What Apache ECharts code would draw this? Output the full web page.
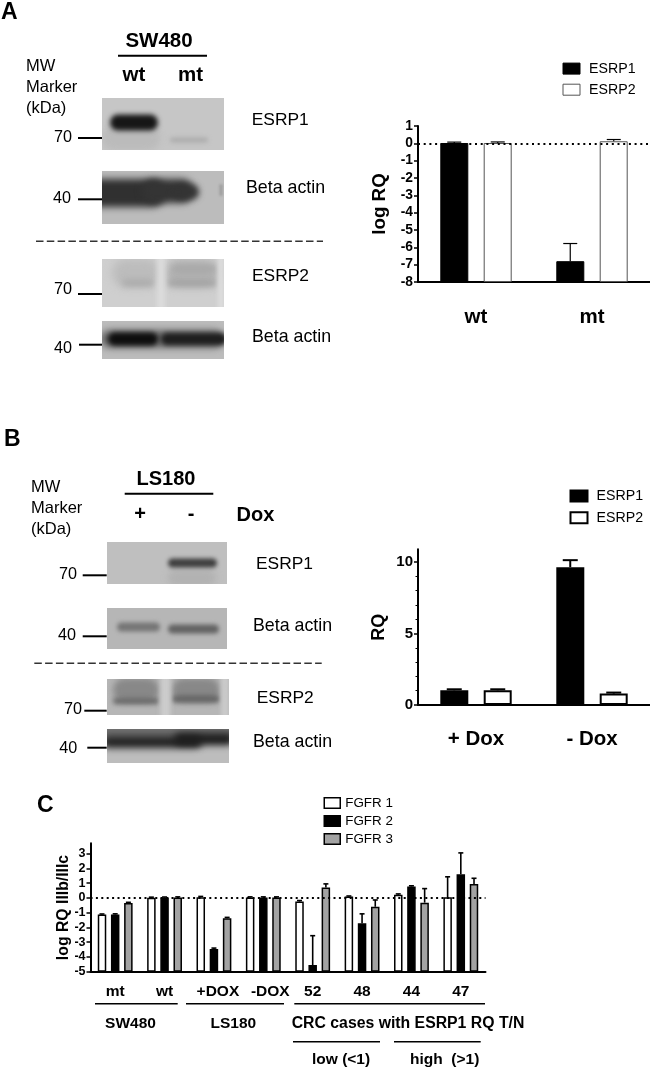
<!DOCTYPE html>
<html>
<head>
<meta charset="utf-8">
<title>ESRP1 ESRP2 FGFR</title>
<script src="https://cdn.jsdelivr.net/npm/echarts@6/dist/echarts.min.js"></script>
<style>
  html, body { margin: 0; padding: 0; background: #fff; }
  #chart { width: 650px; height: 1067px; }
</style>
</head>
<body>
<div id="chart"></div>
<script>
// panel A
var catsA = ['wt', 'mt'];
var ticksA = [-8, -7, -6, -5, -4, -3, -2, -1, 0, 1];
var esrp1A = [0.02, -6.8];
var esrp1AErr = [0.07, -5.78];
var esrp2A = [0.02, 0.12];
var esrp2AErr = [0.08, 0.22];

// panel B
var catsB = ['+ Dox', '- Dox'];
var ticksB = [0, 5, 10];
var esrp1B = [1.03, 9.65];
var esrp1BErr = [1.1, 10.14];
var esrp2B = [1.03, 0.8];
var esrp2BErr = [1.1, 0.87];

// panel C
var catsC = ['mt', 'wt', '+DOX', '-DOX', '52', '48', '44', '47'];
var ticksC = [-5, -4, -3, -2, -1, 0, 1, 2, 3];
var fgfr1 = [-1.13, 0.01, 0.05, 0.02, -0.25, 0.1, 0.22, 0.05];
var fgfr1Err = [-1.09, 0.05, 0.1, 0.07, -0.18, 0.13, 0.27, 1.43];
var fgfr2 = [-1.13, 0.02, -3.46, 0.02, -4.55, -1.72, 0.77, 1.6];
var fgfr2Err = [-1.08, 0.06, -3.4, 0.07, -2.56, -1.08, 0.82, 3.05];
var fgfr3 = [-0.34, 0.02, -1.38, 0.02, 0.7, -0.6, -0.32, 0.95];
var fgfr3Err = [-0.3, 0.07, -1.32, 0.07, 0.95, -0.14, 0.63, 1.33];

var FONT = '"Liberation Sans", Arial, sans-serif';

// text / line / gel helpers for the blot part of the figure
var items = [];
function txt(x, y, s, size, bold, align) {
  items.push({
    type: 'text', x: x, y: y, z: 10,
    style: {
      text: s, fill: '#000', align: align || 'left', verticalAlign: 'middle',
      font: (bold ? 'bold ' : '') + size + 'px ' + FONT
    }
  });
}
function rule(x1, x2, y, w, dash) {
  items.push({
    type: 'line', z: 9,
    shape: { x1: x1, y1: y, x2: x2, y2: y },
    style: { stroke: dash ? '#333' : '#000', lineWidth: w, lineDash: dash || null }
  });
}
// a blot is painted on a small canvas so the blurred bands stay inside its frame
// band = [cx, cy, rx, ry, colour, blur]
function gel(x, y, w, h, bg, bands) {
  var c = document.createElement('canvas');
  c.width = w; c.height = h;
  var ctx = c.getContext('2d');
  ctx.fillStyle = bg;
  ctx.fillRect(0, 0, w, h);
  bands.forEach(function (b) {
    ctx.filter = 'blur(' + b[5] + 'px)';
    ctx.fillStyle = b[4];
    ctx.beginPath();
    ctx.roundRect(b[0] - b[2], b[1] - b[3], b[2] * 2, b[3] * 2, Math.min(b[2], b[3]));
    ctx.fill();
  });
  items.push({ type: 'image', x: x, y: y, z: 5, style: { image: c, x: 0, y: 0, width: w, height: h } });
}

// A
txt(1, 12.5, 'A', 23, true);
txt(159, 41.5, 'SW480', 20.5, true, 'center');
rule(118, 207, 55.7, 2);
txt(134, 75, 'wt', 20.5, true, 'center');
txt(190.5, 75, 'mt', 20.5, true, 'center');
txt(26, 66.7, 'MW', 16.5);
txt(26, 87.3, 'Marker', 16.5);
txt(26, 108, '(kDa)', 16.5);
gel(102, 98, 122, 52, '#c6c6c6', [[29, 40, 29, 12, '#bbbbbb', 3], [32, 24.5, 24, 8, '#161616', 2.5], [87, 42, 19, 2.5, '#acacac', 2]]);
txt(54, 137.3, '70', 16.2);
rule(78, 102, 138, 2);
txt(251.7, 120.7, 'ESRP1', 17.4);
gel(102, 171, 122, 53, '#bcbcbc', [[8, 22, 56, 14, '#303030', 3.5], [66, 20, 26, 12, '#343434', 3.5], [84, 21, 13, 7, '#343434', 3], [119, 19, 1.5, 6, '#9c9c9c', 1]]);
txt(53, 198.3, '40', 16.2);
rule(78, 102, 199.3, 2);
txt(246, 188, 'Beta actin', 17.8);
rule(36, 323, 241.3, 1.5, [7.5, 3.3]);
gel(102, 259, 122, 48, '#cfcfcf', [[34, 14, 24, 14, '#bcbcbc', 4], [90, 14, 26, 14, '#b2b2b2', 4], [36, 24, 16, 3, '#a8a8a8', 3], [90, 24, 25, 3, '#a0a0a0', 3], [92, 10, 22, 3, '#a6a6a6', 3], [59, 24, 4, 30, '#dcdcdc', 2.5], [119, 24, 3, 30, '#dddddd', 2]]);
txt(54, 290, '70', 16.2);
rule(78, 102, 294, 2);
txt(252, 276.7, 'ESRP2', 17.4);
gel(102, 321, 122, 38, '#bcbcbc', [[60, 18, 62, 9, '#666666', 3.5], [31, 18, 25, 6.5, '#0e0e0e', 2.5], [92, 18, 33, 6, '#1e1e1e', 2.5]]);
txt(54, 348.3, '40', 16.2);
rule(79, 102, 344.7, 2);
txt(252, 337.3, 'Beta actin', 17.8);

// B
txt(4, 440, 'B', 23, true);
txt(166, 479.3, 'LS180', 20, true, 'center');
rule(124.7, 213.3, 493.7, 2);
txt(140, 514, '+', 20, true, 'center');
txt(191, 514, '-', 20, true, 'center');
txt(236.5, 515.7, 'Dox', 20, true);
txt(31, 487.7, 'MW', 16.5);
txt(31, 508, 'Marker', 16.5);
txt(31, 529.3, '(kDa)', 16.5);
gel(107, 542, 120, 42, '#bfbfbf', [[85, 36, 24, 8, '#b2b2b2', 3], [85.5, 21, 24.5, 4.5, '#3e3e3e', 2.2]]);
txt(59, 574.7, '70', 16.2);
rule(82.7, 106.7, 575.3, 2);
txt(256, 564, 'ESRP1', 17.4);
gel(107, 608, 120, 41, '#b6b6b6', [[31.5, 19, 21.5, 4.5, '#757575', 2], [86.5, 21, 25.5, 4.5, '#636363', 2]]);
txt(58, 635.7, '40', 16.2);
rule(82.7, 106.7, 636.3, 2);
txt(253, 626, 'Beta actin', 17.8);
rule(34.3, 321.7, 663.3, 1.5, [7.5, 3.3]);
gel(107, 679, 122, 36, '#b6b6b6', [[29, 11, 23, 12, '#888888', 3], [89, 11, 24, 12, '#888888', 3], [29, 22, 23, 3, '#666666', 2.5], [89, 20, 24, 3.5, '#636363', 2.5], [58.5, 18, 5, 24, '#cccccc', 2], [118, 18, 4, 24, '#cacaca', 2]]);
txt(64, 709.3, '70', 16.2);
rule(84.3, 106.7, 710.7, 2);
txt(256.7, 698.7, 'ESRP2', 17.4);
gel(107, 729, 122, 34, '#bdbdbd', [[61, 3, 70, 9, '#6f6f6f', 3.5], [45, 13, 50, 6, '#222222', 3.5], [97, 10, 30, 6, '#1e1e1e', 3.5]]);
txt(59.3, 748.3, '40', 16.2);
rule(87.3, 106.7, 747.7, 2);
txt(253, 741.7, 'Beta actin', 17.8);

// C
txt(37, 806, 'C', 23, true);
rule(95, 177.7, 1003.7, 1.5);
rule(186, 284, 1003.7, 1.5);
rule(294.3, 485, 1003.7, 1.5);
txt(130.5, 1023.3, 'SW480', 15.5, true, 'center');
txt(233.3, 1023.3, 'LS180', 15.5, true, 'center');
txt(291.7, 1023.3, 'CRC cases with ESRP1 RQ T/N', 15.8, true);
rule(293, 380, 1041.7, 1.5);
rule(394, 480.7, 1041.7, 1.5);
txt(312, 1059.3, 'low (<1)', 15.5, true);
txt(410, 1059.3, 'high  (>1)', 15.5, true);

function bars(name, data, grid, style, width, gap, dotted) {
  var s = {
    type: 'bar', name: name, data: data, xAxisIndex: grid, yAxisIndex: grid,
    barWidth: width, barGap: gap, itemStyle: style, silent: true, animation: false
  };
  if (dotted) {
    s.markLine = {
      silent: true, symbol: 'none', animation: false, label: { show: false },
      lineStyle: { color: '#000', type: dotted, width: 2 },
      data: [{ yAxis: 0 }]
    };
  }
  return s;
}

// whisker from each bar top, drawn through the axis scale
function whiskers(values, tops, grid, offset, cap, lw) {
  return {
    type: 'custom', xAxisIndex: grid, yAxisIndex: grid, silent: true, animation: false, z: 3,
    data: values.map(function (v, i) { return [i, v, tops[i]]; }),
    encode: { x: 0, y: [1, 2] },
    renderItem: function (params, api) {
      var low = api.coord([api.value(0), api.value(1)]);
      var high = api.coord([api.value(0), api.value(2)]);
      var x = low[0] + offset;
      var st = { stroke: '#000', lineWidth: lw, fill: null };
      return {
        type: 'group',
        children: [
          { type: 'line', shape: { x1: x, y1: low[1], x2: x, y2: high[1] }, style: st },
          { type: 'line', shape: { x1: x - cap / 2, y1: high[1], x2: x + cap / 2, y2: high[1] }, style: st }
        ]
      };
    }
  };
}

function xAxisOf(cats, grid, size, margin, extra) {
  return {
    type: 'category', gridIndex: grid, data: cats,
    axisLine: { onZero: false, lineStyle: { color: '#000', width: 2 } },
    axisTick: { alignWithLabel: true, length: 3.5, lineStyle: { color: '#000', width: 1.5 } },
    axisLabel: Object.assign({
      color: '#000', fontFamily: FONT, fontWeight: 'bold', fontSize: size, margin: margin, interval: 0
    }, extra || {}),
    splitLine: { show: false }
  };
}
function yAxisOf(ticks, grid, min, max, interval, name, nameSize, nameGap, size) {
  return {
    type: 'value', gridIndex: grid, min: min, max: max, interval: interval, startValue: min,
    name: name, nameLocation: 'middle', nameGap: nameGap, nameMoveOverlap: false,
    nameTextStyle: { color: '#000', fontFamily: FONT, fontWeight: 'bold', fontSize: nameSize },
    axisLine: { show: true, onZero: false, lineStyle: { color: '#000', width: 2 } },
    axisTick: { show: true, customValues: ticks, length: 4, lineStyle: { color: '#000', width: 1.5 } },
    axisLabel: { customValues: ticks, color: '#000', fontFamily: FONT, fontWeight: 'bold', fontSize: size, margin: 5 },
    splitLine: { show: false }
  };
}

var blackA = { color: '#000', borderColor: '#000', borderWidth: 1 };
var whiteA = { color: '#fff', borderColor: '#555', borderWidth: 1 };
var blackB = { color: '#000', borderColor: '#000', borderWidth: 2 };
var whiteB = { color: '#fff', borderColor: '#000', borderWidth: 2 };
var whiteC = { color: '#fff', borderColor: '#000', borderWidth: 1.5 };
var blackC = { color: '#000', borderColor: '#000', borderWidth: 1.5 };
var greyC = { color: '#a3a3a3', borderColor: '#000', borderWidth: 1.5 };

function legendOf(left, top, w, h, gap, size, pad, entries) {
  return {
    left: left, top: top, orient: 'vertical', itemWidth: w, itemHeight: h, itemGap: gap,
    selectedMode: false, padding: 0,
    textStyle: { color: '#000', fontFamily: FONT, fontSize: size, padding: [0, 0, 0, pad] },
    data: entries.map(function (e) { return { name: e[0], icon: 'rect', itemStyle: e[1] }; })
  };
}

// the two DOX labels sit a little right of their ticks
var doxLabel = {
  formatter: function (v) {
    if (v == '+DOX') return '{p|+DOX}';
    if (v == '-DOX') return '{m|-DOX}';
    return v;
  },
  rich: {
    p: { fontFamily: FONT, fontWeight: 'bold', fontSize: 15.5, color: '#000', padding: [0, 0, 0, 8] },
    m: { fontFamily: FONT, fontWeight: 'bold', fontSize: 15.5, color: '#000', padding: [0, 0, 0, 14] }
  }
};

var myChart = echarts.init(document.getElementById('chart'), null, { renderer: 'canvas' });
myChart.setOption({
  backgroundColor: '#fff',
  animation: false,
  graphic: { elements: items },
  legend: [
    legendOf(562.5, 61.6, 17, 11, 7.1, 14.2, 4, [['ESRP1', blackA], ['ESRP2', whiteA]]),
    legendOf(569.5, 488.9, 17, 11, 7.8, 14.2, 4, [['ESRP1', blackB], ['ESRP2', whiteB]]),
    legendOf(323.5, 796.6, 16, 10.5, 4.9, 13.4, 0, [['FGFR 1', whiteC], ['FGFR 2', blackC], ['FGFR 3', greyC]])
  ],
  grid: [
    { left: 418, top: 126, width: 232, height: 156 },
    { left: 418, top: 549.3, width: 232, height: 155.7 },
    { left: 90.5, top: 843.3, width: 395, height: 128.4 }
  ],
  xAxis: [
    xAxisOf(catsA, 0, 20.5, 24.5),
    xAxisOf(catsB, 1, 20.5, 24),
    xAxisOf(catsC, 2, 15.5, 12, doxLabel)
  ],
  yAxis: [
    yAxisOf(ticksA, 0, -8, 1, 1, 'log RQ', 18.8, 29, 13.8),
    Object.assign(yAxisOf(ticksB, 1, 0, 10.9, 5, 'RQ', 18, 30, 15), {
      minorTick: { show: true, splitNumber: 5, length: 2.5, lineStyle: { color: '#000', width: 1 } }
    }),
    yAxisOf(ticksC, 2, -5, 3.7, 1, 'log RQ IIIb/IIIc', 15.8, 18.5, 12.5)
  ],
  series: [
    bars('ESRP1', esrp1A, 0, blackA, 28, '55%', [2, 3.7]),
    bars('ESRP2', esrp2A, 0, whiteA, 28, '55%'),
    whiskers(esrp1A, esrp1AErr, 0, -21.75, 14, 1.2),
    whiskers(esrp2A, esrp2AErr, 0, 21.75, 14, 1.2),

    bars('ESRP1', esrp1B, 1, blackB, 28, '55%'),
    bars('ESRP2', esrp2B, 1, whiteB, 28, '55%'),
    whiskers(esrp1B, esrp1BErr, 1, -21.75, 15, 2),
    whiskers(esrp2B, esrp2BErr, 1, 21.75, 15, 2),

    bars('FGFR 1', fgfr1, 2, whiteC, 8.5, '55%', [2, 3.4]),
    bars('FGFR 2', fgfr2, 2, blackC, 8.5, '55%'),
    bars('FGFR 3', fgfr3, 2, greyC, 8.5, '55%'),
    whiskers(fgfr1, fgfr1Err, 2, -13.2, 5, 1.6),
    whiskers(fgfr2, fgfr2Err, 2, 0, 5, 1.6),
    whiskers(fgfr3, fgfr3Err, 2, 13.2, 5, 1.6)
  ]
});
</script>
</body>
</html>
